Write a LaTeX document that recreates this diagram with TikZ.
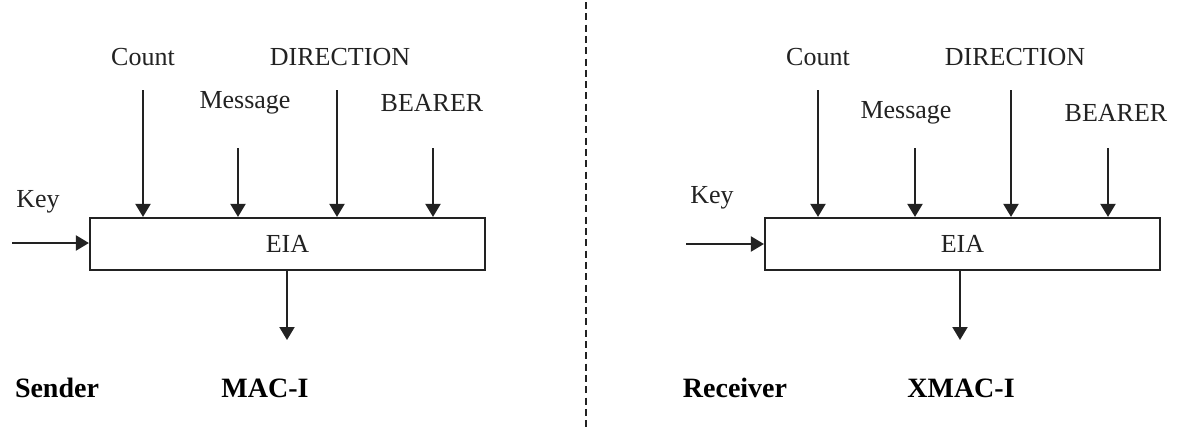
\documentclass[tikz,border=0pt]{standalone}
\usepackage{fontspec}
\setmainfont{Liberation Serif}
\usetikzlibrary{arrows.meta}
\definecolor{ink}{HTML}{222222}
\begin{document}
\begin{tikzpicture}[x=1pt,y=-1pt,
  lab/.style={inner sep=0pt,text=ink,font=\fontsize{26}{31}\selectfont},
  blab/.style={inner sep=0pt,text=black,font=\fontsize{28}{33}\selectfont\bfseries},
  eiabox/.style={draw=ink,line width=2.2pt,minimum width=395pt,minimum height=52pt,inner sep=0pt,text=ink,font=\fontsize{26}{31}\selectfont},
  arr/.style={draw=ink,line width=2.1pt,-{Triangle[width=15pt,length=13pt]}},
  divider/.style={draw=ink,line width=2pt,dash pattern=on 7pt off 4.3pt}
]
\fill[white] (0,0) rectangle (1181,432);
\useasboundingbox (0,0) rectangle (1181,432);

% ---------- Sender ----------
\node[eiabox] (b1) at (287.5,244) {\raisebox{-3pt}{EIA}};
\node[lab] (c1) at (143,57) {Count};
\node[lab] (d1) at (340,57) {DIRECTION};
\node[lab] (m1) at (245,103) {Message};
\node[lab] (r1) at (432,103) {BEARER};
\node[lab] (k1) at (38,202) {Key};
\node[blab] (s1) at (57,388) {Sender};
\node[blab] (o1) at (265,388) {MAC-I};

\coordinate (c1s) at (143,90);
\coordinate (m1s) at (238,148);
\coordinate (d1s) at (337,90);
\coordinate (r1s) at (433,148);
\coordinate (k1s) at (12,243);
\coordinate (o1e) at (287,340);
\draw[arr] (c1s) -- (c1s |- b1.north);
\draw[arr] (m1s) -- (m1s |- b1.north);
\draw[arr] (d1s) -- (d1s |- b1.north);
\draw[arr] (r1s) -- (r1s |- b1.north);
\draw[arr] (k1s) -- (k1s -| b1.west);
\draw[arr] (o1e |- b1.south) -- (o1e);

% ---------- divider ----------
\coordinate (dvt) at (586,2);
\coordinate (dvb) at (586,430);
\draw[divider] (dvt) -- (dvb);

% ---------- Receiver ----------
\node[eiabox] (b2) at (962.5,244) {\raisebox{-3pt}{EIA}};
\node[lab] (c2) at (818,57) {Count};
\node[lab] (d2) at (1015,57) {DIRECTION};
\node[lab] (m2) at (906,113) {Message};
\node[lab] (r2) at (1116,113) {BEARER};
\node[lab] (k2) at (712,198) {Key};
\node[blab] (s2) at (735,388) {Receiver};
\node[blab] (o2) at (961,388) {XMAC-I};

\coordinate (c2s) at (818,90);
\coordinate (m2s) at (915,148);
\coordinate (d2s) at (1011,90);
\coordinate (r2s) at (1108,148);
\coordinate (k2s) at (686,244);
\coordinate (o2e) at (960,340);
\draw[arr] (c2s) -- (c2s |- b2.north);
\draw[arr] (m2s) -- (m2s |- b2.north);
\draw[arr] (d2s) -- (d2s |- b2.north);
\draw[arr] (r2s) -- (r2s |- b2.north);
\draw[arr] (k2s) -- (k2s -| b2.west);
\draw[arr] (o2e |- b2.south) -- (o2e);
\end{tikzpicture}
\end{document}
